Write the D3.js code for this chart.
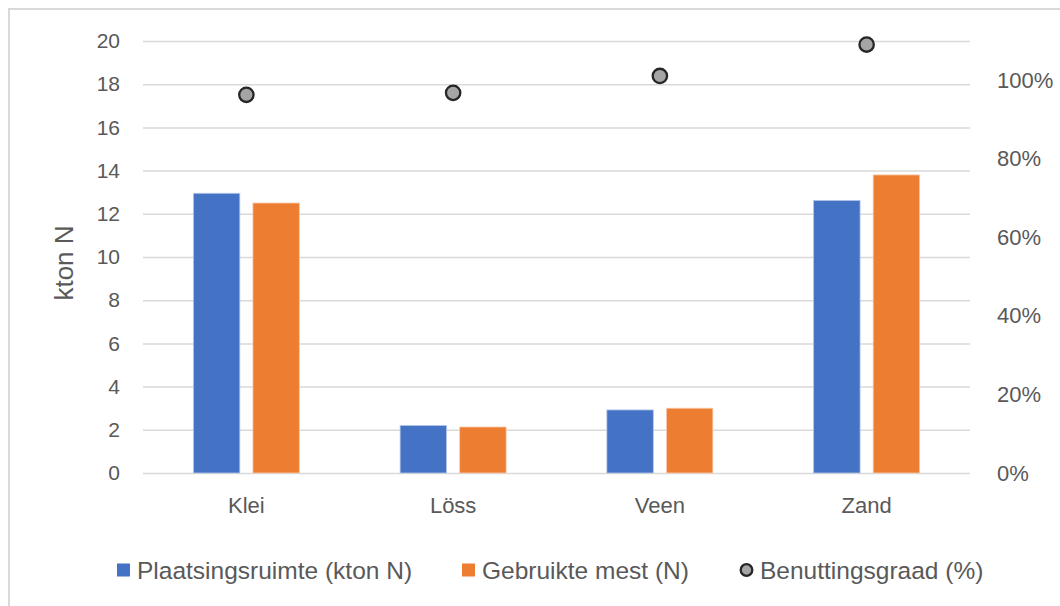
<!DOCTYPE html>
<html><head><meta charset="utf-8">
<script src="https://cdn.jsdelivr.net/npm/d3@7"></script>
<style>body{margin:0;background:#fff;} svg{display:block;font-family:"Liberation Sans",Arial,sans-serif;}</style>
</head><body>
<svg id="chart" width="1060" height="606"></svg>
<script>
const categories = ["Klei", "Löss", "Veen", "Zand"];
const plaatsingsruimte = [12.95, 2.2, 2.92, 12.62];
const gebruikteMest = [12.5, 2.13, 3.0, 13.8];
const benuttingsgraad = [96.3, 96.8, 101.1, 109.1];
const leftTicks = [0, 2, 4, 6, 8, 10, 12, 14, 16, 18, 20];
const rightTicks = [0, 20, 40, 60, 80, 100];
const seriesNames = ["Plaatsingsruimte (kton N)", "Gebruikte mest (N)", "Benuttingsgraad (%)"];

(function () {
const svg = d3.select("#chart");
const textColor = "#595959";
const pLeft = 143, pRight = 970, pTop = 41, pBottom = 473;

svg.append("rect").attr("x", 9).attr("y", 9).attr("width", 1200).attr("height", 800)
  .attr("fill", "none").attr("stroke", "#d9d9d9").attr("stroke-width", 2);

const x = d3.scaleBand().domain(categories).range([pLeft, pRight]);
const y = d3.scaleLinear().domain([0, 20]).range([pBottom, pTop]);
const y2 = d3.scaleLinear().domain([0, 110]).range([pBottom, pTop]);
const xs = d3.scaleBand().domain([0, 1]).range([0, 106]).paddingInner(0.22);

// gridlines
const gy = svg.append("g").attr("transform", `translate(${pLeft},0)`)
  .call(d3.axisLeft(y).tickValues(leftTicks).tickSize(-(pRight - pLeft)).tickFormat(""));
gy.select(".domain").remove();
gy.selectAll(".tick line").attr("stroke", "#d9d9d9").attr("stroke-width", 1.5);

// left labels
const ly = svg.append("g").attr("transform", `translate(${pLeft - 23},0)`)
  .call(d3.axisLeft(y).tickValues(leftTicks).tickSize(0).tickPadding(0));
ly.select(".domain").remove();
ly.selectAll("text").attr("fill", textColor).style("font-size", "21px").style("font-family", "inherit");

// right labels
const ry = svg.append("g").attr("transform", `translate(${pRight + 27},0)`)
  .call(d3.axisRight(y2).tickValues(rightTicks).tickSize(0).tickPadding(0).tickFormat(d => d + "%"));
ry.select(".domain").remove();
ry.selectAll("text").attr("fill", textColor).style("font-size", "22px").style("font-family", "inherit");

// x labels
const xa = svg.append("g").attr("transform", `translate(0,${pBottom + 18})`)
  .call(d3.axisBottom(x).tickSize(0).tickPadding(6));
xa.select(".domain").remove();
xa.selectAll("text").attr("fill", textColor).style("font-size", "22px").style("font-family", "inherit");

// y title
svg.append("text").attr("transform", `translate(73,${(pTop + pBottom) / 2 + 6}) rotate(-90)`)
  .attr("text-anchor", "middle").attr("fill", textColor).style("font-size", "26px").text("kton N");

// bars
const colors = ["#4472c4", "#ed7d31"];
const strokes = ["#b4c7e7", "#f8cbad"];
const barSeries = [plaatsingsruimte, gebruikteMest];
barSeries.forEach((vals, si) => {
  svg.append("g").selectAll("rect").data(categories).join("rect")
    .attr("x", (c) => x(c) + x.bandwidth() / 2 - 53 + xs(si))
    .attr("width", xs.bandwidth())
    .attr("y", (c, i) => y(vals[i]))
    .attr("height", (c, i) => pBottom - y(vals[i]))
    .attr("fill", colors[si])
    .attr("stroke", strokes[si]).attr("stroke-width", 0.8);
});

// points
svg.append("g").selectAll("circle").data(categories).join("circle")
  .attr("cx", c => x(c) + x.bandwidth() / 2)
  .attr("cy", (c, i) => y2(benuttingsgraad[i]))
  .attr("r", 7.2).attr("fill", "#a5a5a5").attr("stroke", "#262626").attr("stroke-width", 2.3);

// legend
const lg = svg.append("g").attr("transform", "translate(0,570)");
const lx = [117, 462, 740];
seriesNames.forEach((name, i) => {
  if (i < 2) {
    lg.append("rect").attr("x", lx[i]).attr("y", -6.5).attr("width", 13).attr("height", 13).attr("fill", colors[i]);
  } else {
    lg.append("circle").attr("cx", lx[i] + 6.5).attr("cy", 0).attr("r", 5.8)
      .attr("fill", "#a5a5a5").attr("stroke", "#262626").attr("stroke-width", 2.3);
  }
  lg.append("text").attr("x", lx[i] + 20).attr("y", 8.5).attr("fill", textColor)
    .style("font-size", "24.5px").text(name);
});
})();
</script>
</body></html>
